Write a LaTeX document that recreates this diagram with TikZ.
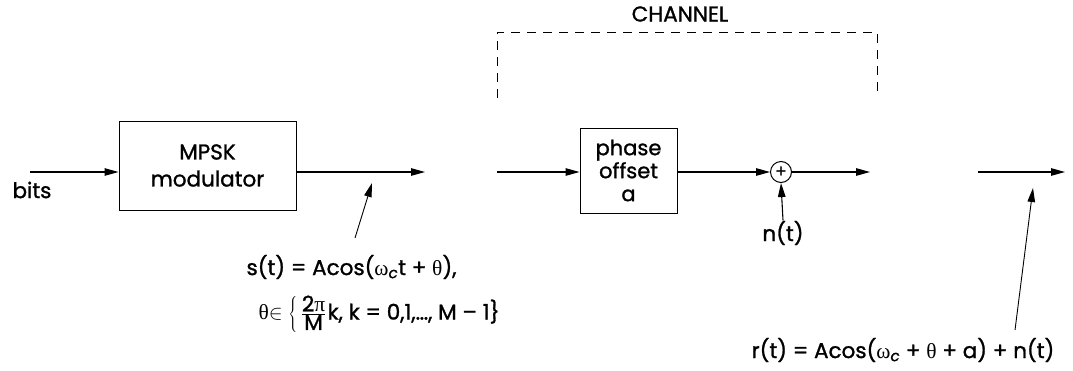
\documentclass[tikz,border=0pt]{standalone}
\usepackage{fontspec}
\setmainfont{Poppins}[FakeBold=1.2]
\newfontfamily\gr{Liberation Serif}
\usetikzlibrary{arrows.meta,calc}
\newcommand{\sbc}{\textsubscript{\itshape c}}
\begin{document}
\begin{tikzpicture}[x=1pt,y=-1pt,
  font=\fontsize{21.5}{25}\selectfont,
  line width=1.1pt,
  arr/.style={-{Triangle[length=14pt,width=7.5pt]}},
  blk/.style={draw,line width=1pt,align=center,inner sep=0pt},
  lbl/.style={inner sep=0pt}]
\useasboundingbox (0,0) rectangle (1073,370);
% channel
\node[lbl] (chan) at (680,14) {CHANNEL};
\coordinate (c1) at (497,98);
\coordinate (c2) at (497,32);
\coordinate (c3) at (877,32);
\coordinate (c4) at (877,98);
\draw[dashed,dash pattern=on 9pt off 7pt,line width=0.9pt] (c1) -- (c2) -- (c3) -- (c4);
% blocks
\node[blk,minimum width=177pt,minimum height=89pt] (mpsk) at (207.5,165.5) {MPSK\\[2pt]modulator};
\node[blk,minimum width=97pt,minimum height=85pt,font=\fontsize{21}{23}\selectfont] (phase) at (628.5,170.5) {phase\\offset\\a};
\node[draw,circle,line width=1pt,minimum size=21pt,inner sep=0pt,font=\fontsize{17}{17}\selectfont] (sum) at (781,172) {+};
% coordinates
\coordinate (bitsin) at (30,172);
\coordinate (o1) at (425,172);
\coordinate (i2) at (497,172);
\coordinate (o3) at (870,172);
\coordinate (i4) at (978,172);
\coordinate (o4) at (1065,172);
% labels
\node[lbl] (bits) at (32,190) {bits};
\node[lbl] (nt) at (783,233) {n(t)};
\node[lbl,anchor=west] (st) at (246,267) {s(t) = Acos({\gr ω}\sbc t + {\gr θ}),};
\node[lbl,anchor=west] (th) at (258,314) {{\gr θ}$\in\left\{\,\frac{\hbox{2{\gr π}}}{\hbox{M}}\right.$k, k = 0,1,…, M – 1\}};
\node[lbl] (rt) at (903,350) {r(t) = Acos({\gr ω}\sbc{} + {\gr θ} + a) + n(t)};
% pointers
\coordinate (ps) at (355,238);
\coordinate (pe) at (372,183);
\coordinate (qs) at (1015,330);
\coordinate (qe) at (1033,188);
% connectors
\draw[arr] (bitsin) -- (mpsk.west |- bitsin);
\draw[arr] (mpsk.east |- o1) -- (o1);
\draw[arr] (i2) -- (phase.west |- i2);
\draw[arr] (phase.east |- sum) -- (sum.west);
\draw[arr] (sum.east) -- (o3);
\draw[arr] (nt.north) -- (sum.south);
\draw[arr] (i4) -- (o4);
\draw[arr,line width=0.9pt] (ps) -- (pe);
\draw[arr,line width=0.9pt] (qs) -- (qe);
\end{tikzpicture}
\end{document}
